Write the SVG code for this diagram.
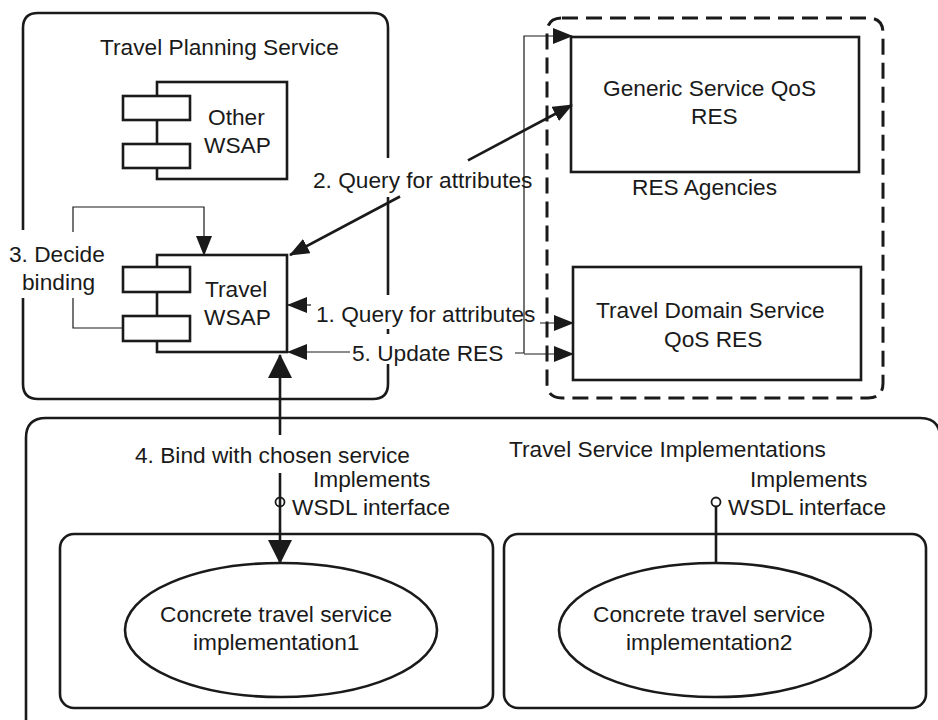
<svg xmlns="http://www.w3.org/2000/svg" width="938" height="720" viewBox="0 0 938 720">
<style>
text{font-family:"Liberation Sans",Arial,sans-serif;font-size:22.7px;fill:#1a1a1a}
.box{fill:none;stroke:#1a1a1a;stroke-width:2.6}
.wbox{fill:#fff;stroke:#1a1a1a;stroke-width:2.6}
.thin{fill:none;stroke:#1a1a1a;stroke-width:1.2}
.thick{fill:none;stroke:#1a1a1a;stroke-width:2.6}
.dash{fill:none;stroke:#1a1a1a;stroke-width:3;stroke-dasharray:16 8}
</style>
<defs>
<marker id="ah" viewBox="0 0 20 16" refX="19" refY="8" markerWidth="20" markerHeight="16" markerUnits="userSpaceOnUse" orient="auto-start-reverse"><path d="M0,0 L20,8 L0,16 z" fill="#1a1a1a"/></marker>
<marker id="ahL" viewBox="0 0 24 24" refX="23" refY="12" markerWidth="24" markerHeight="24" markerUnits="userSpaceOnUse" orient="auto-start-reverse"><path d="M0,0 L24,12 L0,24 z" fill="#1a1a1a"/></marker>
</defs>

<g id="travel-planning-service">
<path class="box" d="M38,13 H373 Q388,13 388,28 V158 M388,197 V295 M388,329 V334 M388,364 V384 Q388,399 373,399 H38 Q23,399 23,384 V298 M23,230 V28 Q23,13 38,13"/>
<text x="100" y="55">Travel Planning Service</text>
</g>

<g id="other-wsap">
<rect class="box" x="157" y="82" width="130" height="97"/>
<rect class="wbox" x="123" y="96" width="67" height="24"/>
<rect class="wbox" x="123" y="144" width="67" height="24"/>
<text x="208" y="125">Other</text>
<text x="204" y="153">WSAP</text>
</g>

<g id="travel-wsap">
<rect class="box" x="157" y="255" width="130" height="97"/>
<rect class="wbox" x="123" y="267" width="67" height="25"/>
<rect class="wbox" x="123" y="316" width="67" height="25"/>
<text x="205" y="297">Travel</text>
<text x="204" y="325">WSAP</text>
</g>

<g id="res-agencies">
<path class="dash" d="M562,18 H868 Q883,18 883,33 V383 Q883,398 868,398 H562 Q547,398 547,383 V33 Q547,18 562,18 Z"/>
<text x="632" y="195">RES Agencies</text>
</g>

<g id="generic-res">
<rect class="box" x="571" y="37" width="288" height="135"/>
<text x="603" y="96">Generic Service QoS</text>
<text x="691" y="124">RES</text>
</g>

<g id="travel-domain-res">
<rect class="box" x="573" y="267" width="288" height="113"/>
<text x="596" y="318">Travel Domain Service</text>
<text x="664" y="347">QoS RES</text>
</g>

<g id="travel-service-implementations">
<path class="box" d="M46,418 H920 Q940,418 940,438 V740 M26,740 V438 Q26,418 46,418"/>
<text x="509" y="457">Travel Service Implementations</text>
</g>

<g id="impl1">
<rect class="box" x="60" y="534" width="433" height="174" rx="14"/>
<ellipse class="box" cx="281" cy="630" rx="156" ry="67"/>
<text x="160" y="622">Concrete travel service</text>
<text x="193" y="650">implementation1</text>
</g>

<g id="impl2">
<rect class="box" x="504" y="534" width="422" height="174" rx="14"/>
<ellipse class="box" cx="715" cy="630" rx="156" ry="67"/>
<text x="593" y="622">Concrete travel service</text>
<text x="626" y="650">implementation2</text>
</g>

<g id="connectors">
<path class="thin" d="M123,328 H73 V298"/>
<path class="thin" d="M73,232 V207 H204 V255" marker-end="url(#ah)"/>
<text x="9" y="262">3. Decide</text>
<text x="22" y="290">binding</text>
<path class="thick" d="M400,196.5 L290,255" marker-end="url(#ah)"/>
<path class="thick" d="M468,160.3 L572,105" marker-end="url(#ah)"/>
<text x="313" y="188">2. Query for attributes</text>
<path class="thin" d="M311,305 H288" marker-end="url(#ah)"/>
<path class="thin" d="M540,323 H573" marker-end="url(#ah)"/>
<text x="316" y="322">1. Query for attributes</text>
<path class="thin" d="M350,352 H288" marker-end="url(#ah)"/>
<path class="thin" d="M515,353 H524 V36 H572" marker-end="url(#ah)"/>
<path class="thin" d="M524,354 H573" marker-end="url(#ah)"/>
<text x="352" y="361">5. Update RES</text>
<path class="thick" d="M280,435 V355" marker-end="url(#ahL)"/>
<path class="thick" d="M280,473 V563" marker-end="url(#ahL)"/>
<text x="135" y="463">4. Bind with chosen service</text>
<circle cx="280" cy="502" r="4.5" fill="none" stroke="#1a1a1a" stroke-width="1.8"/>
<text x="313" y="487">Implements</text>
<text x="292" y="515">WSDL interface</text>
<path class="thick" d="M716,507 V563"/>
<circle cx="716" cy="502" r="4.5" fill="#fff" stroke="#1a1a1a" stroke-width="1.8"/>
<text x="750" y="487">Implements</text>
<text x="728" y="515">WSDL interface</text>
</g>
</svg>
